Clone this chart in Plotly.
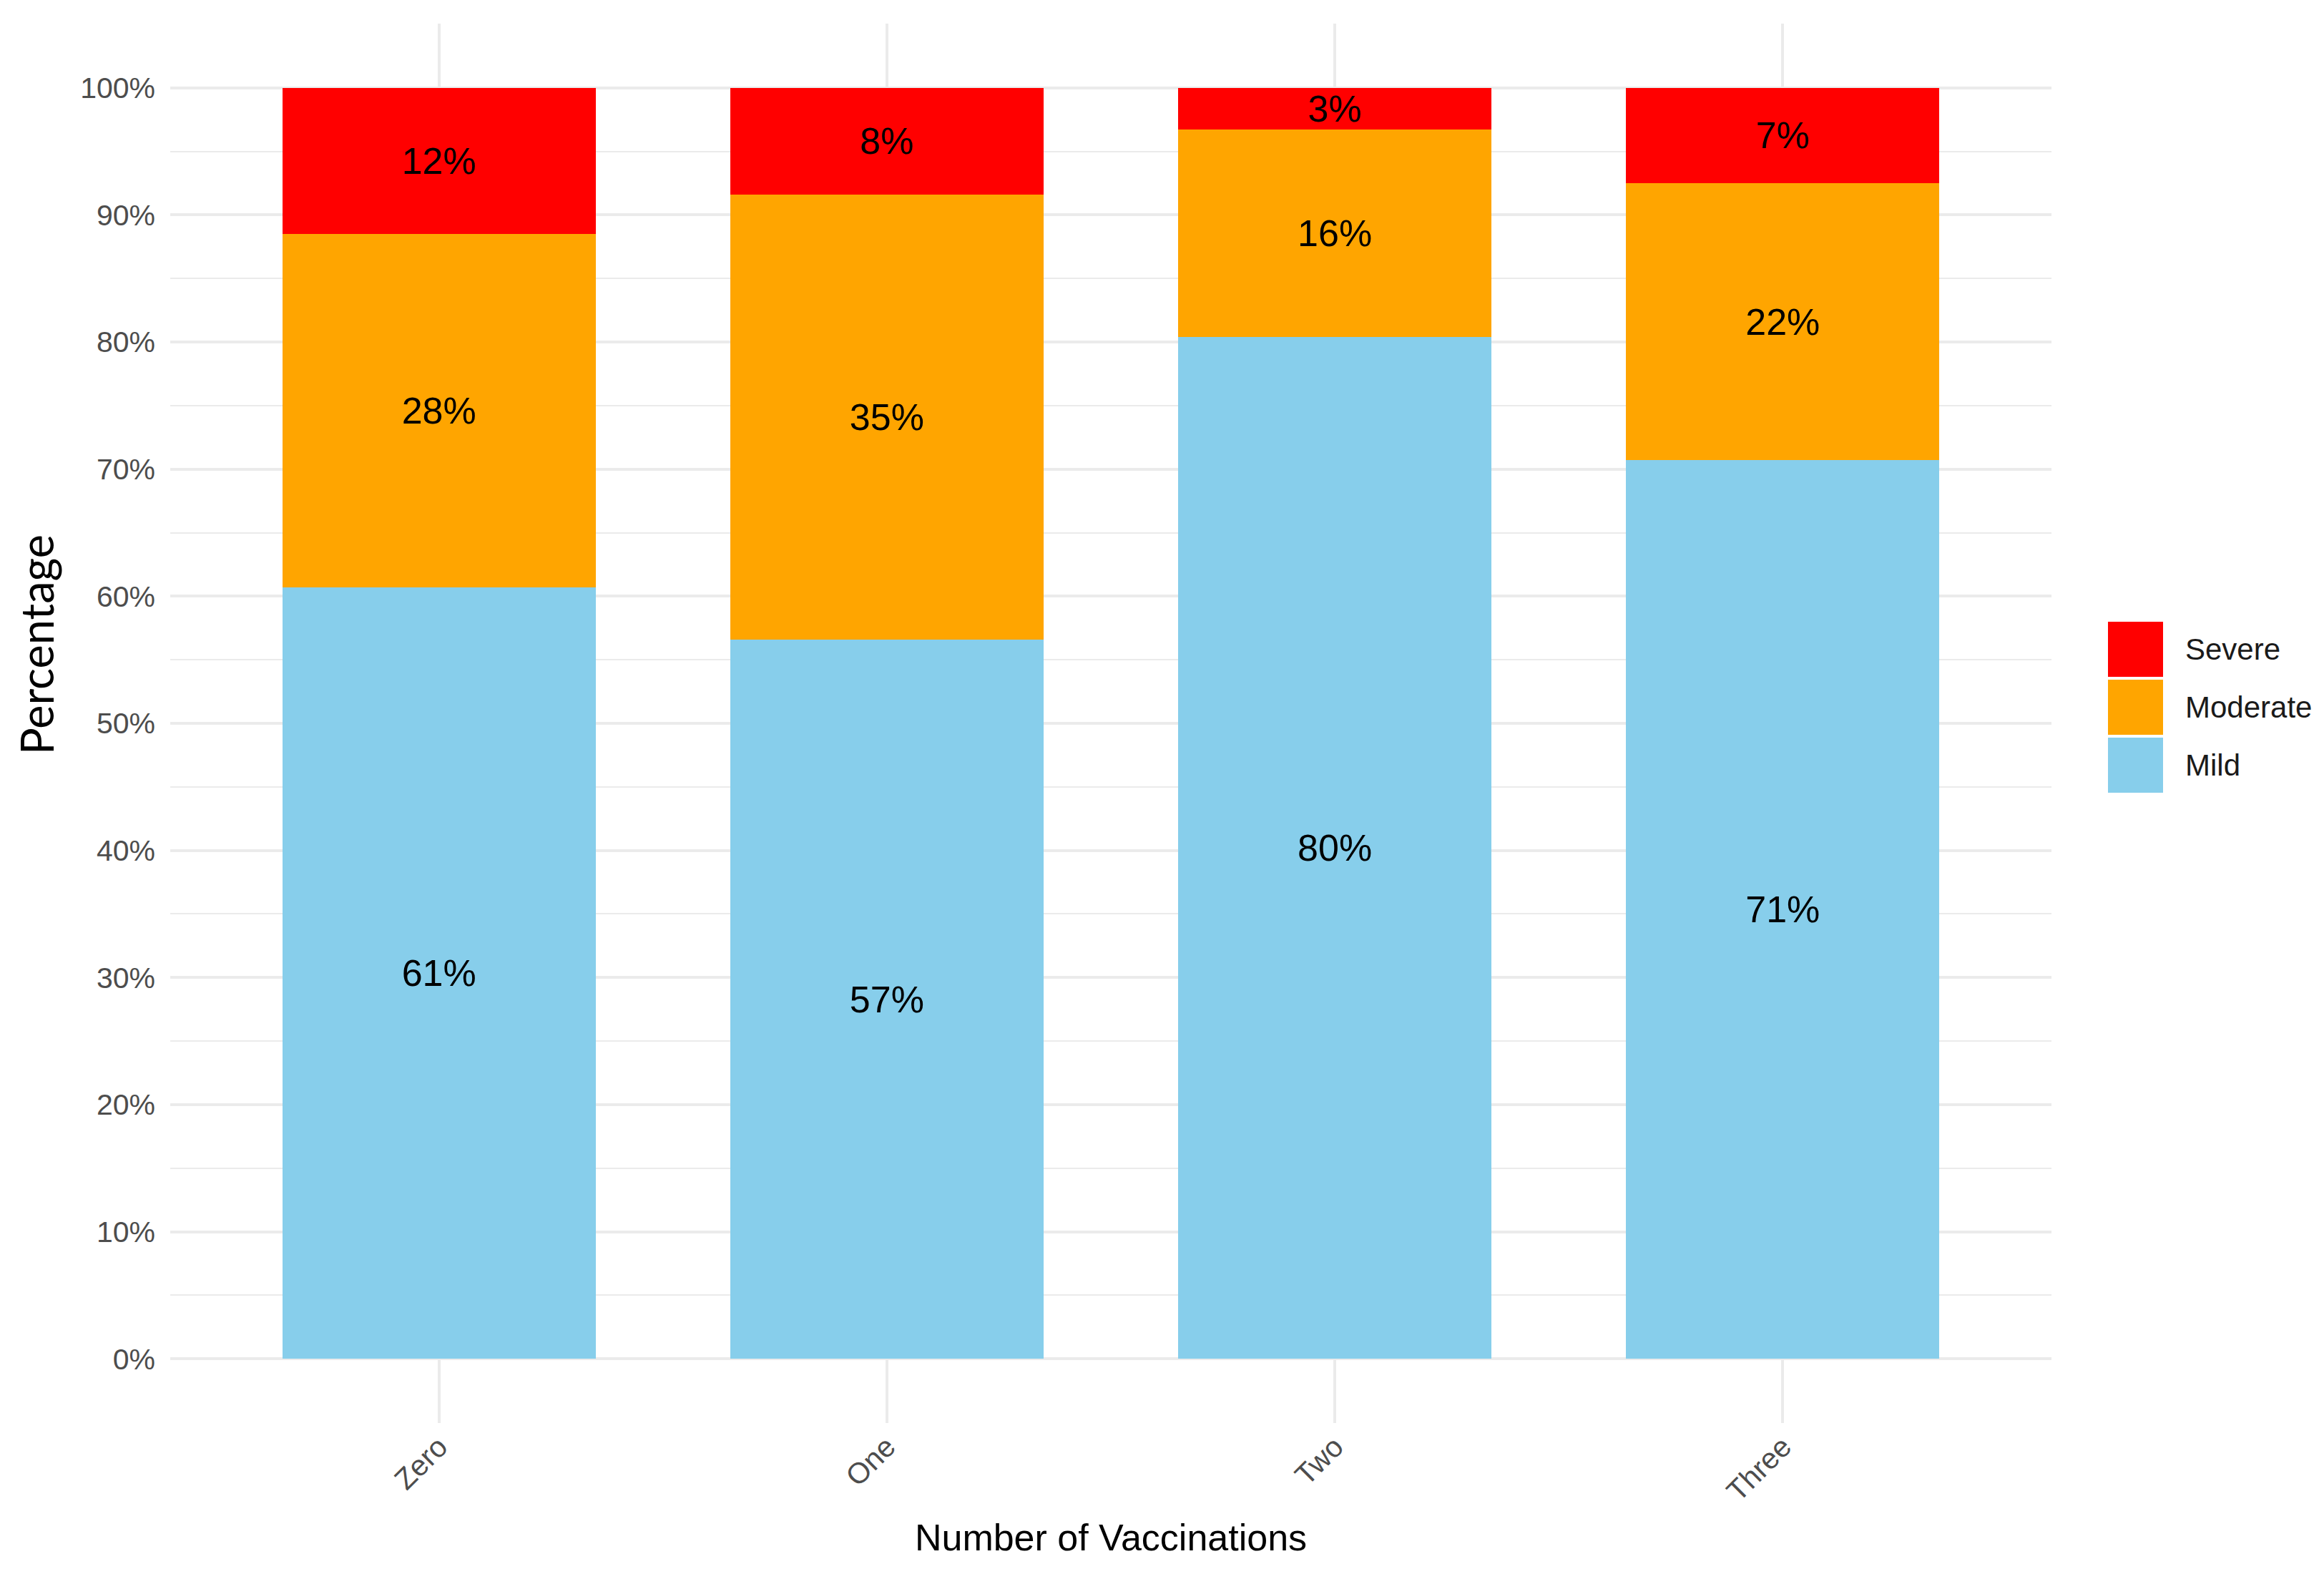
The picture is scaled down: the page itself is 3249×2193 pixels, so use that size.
import plotly.graph_objects as go

# ---- data ----
categories = ["Zero", "One", "Two", "Three"]
mild = [60.7, 56.6, 80.4, 70.7]
moderate = [27.8, 35.0, 16.3, 21.8]
severe = [11.5, 8.4, 3.3, 7.5]
mild_labels = ["61%", "57%", "80%", "71%"]
moderate_labels = ["28%", "35%", "16%", "22%"]
severe_labels = ["12%", "8%", "3%", "7%"]
series_names = ["Mild", "Moderate", "Severe"]
series_colors = ["#87CEEB", "#FFA500", "#FF0000"]
y_tick_values = [0, 10, 20, 30, 40, 50, 60, 70, 80, 90, 100]
y_tick_labels = ["0%", "10%", "20%", "30%", "40%", "50%", "60%", "70%", "80%", "90%", "100%"]
x_title = "Number of Vaccinations"
y_title = "Percentage"

# ---- layout constants (pixels) ----
W, H = 3249, 2193
OFF = 7  # page offset compensation
ML, MR, MT, MB = 237 - OFF, 382 + OFF, 32 - OFF, 205 + OFF
PW, PH = W - ML - MR, H - MT - MB

values = [mild, moderate, severe]
labels = [mild_labels, moderate_labels, severe_labels]

fig = go.Figure()
for name, vals, labs, col in zip(series_names, values, labels, series_colors):
    fig.add_trace(go.Bar(
        x=categories, y=vals, name=name, marker=dict(color=col, line=dict(width=0)),
        text=labs, texttemplate="%{text}", textposition="inside",
        insidetextanchor="middle", textangle=0,
        textfont=dict(family="Liberation Sans, Arial", size=52, color="#000000"),
        width=0.7, showlegend=False,
    ))

grid_col = "#EBEBEB"
fig.update_layout(
    width=W, height=H, barmode="stack",
    margin=dict(l=ML, r=MR, t=MT, b=MB),
    paper_bgcolor="white", plot_bgcolor="white",
    uniformtext=dict(minsize=52, mode="show"),
    xaxis=dict(
        range=[-0.6, 3.6], showgrid=True, gridcolor=grid_col, gridwidth=4,
        zeroline=False, showline=False, ticks="", tickangle=-45,
        tickfont=dict(family="Liberation Sans, Arial", size=41, color="#4D4D4D"),
        title=dict(text=x_title, standoff=24,
                   font=dict(family="Liberation Sans, Arial", size=52, color="#000000")),
    ),
    yaxis=dict(
        range=[-5.05, 105.05], tickvals=y_tick_values, ticktext=y_tick_labels,
        showgrid=True, gridcolor=grid_col, gridwidth=4, zeroline=False, showline=False,
        ticks="", ticklabelstandoff=20,
        tickfont=dict(family="Liberation Sans, Arial", size=41, color="#4D4D4D"),
        minor=dict(tickvals=[-5, 5, 15, 25, 35, 45, 55, 65, 75, 85, 95, 105],
                   showgrid=True, gridcolor=grid_col, gridwidth=2),
    ),
)

def px_x(px):
    return (px - OFF - ML) / PW

def px_y(py):
    return (H - MB - (py - OFF)) / PH

# y-axis title (placed like the reference, slightly above plot centre)
fig.add_annotation(xref="paper", yref="paper", x=px_x(50), y=px_y(900),
                   text=y_title, showarrow=False, textangle=-90,
                   xanchor="center", yanchor="middle",
                   font=dict(family="Lato, Open Sans", size=63, color="#000000"))

# ---- manual legend (top to bottom: Severe, Moderate, Mild) ----
leg_left, leg_size, leg_gap, leg_top = 2946, 77, 4, 868
for i, idx in enumerate([2, 1, 0]):
    top = leg_top + i * (leg_size + leg_gap)
    fig.add_shape(type="rect", xref="paper", yref="paper",
                  x0=px_x(leg_left), x1=px_x(leg_left + leg_size),
                  y0=px_y(top + leg_size), y1=px_y(top),
                  fillcolor=series_colors[idx], line=dict(width=0))
    fig.add_annotation(xref="paper", yref="paper", x=px_x(3052), y=px_y(top + leg_size / 2),
                       text=series_names[idx], showarrow=False, xanchor="left", yanchor="middle",
                       font=dict(family="Liberation Sans, Arial", size=42, color="#1A1A1A"))

fig.write_html("out.html")
